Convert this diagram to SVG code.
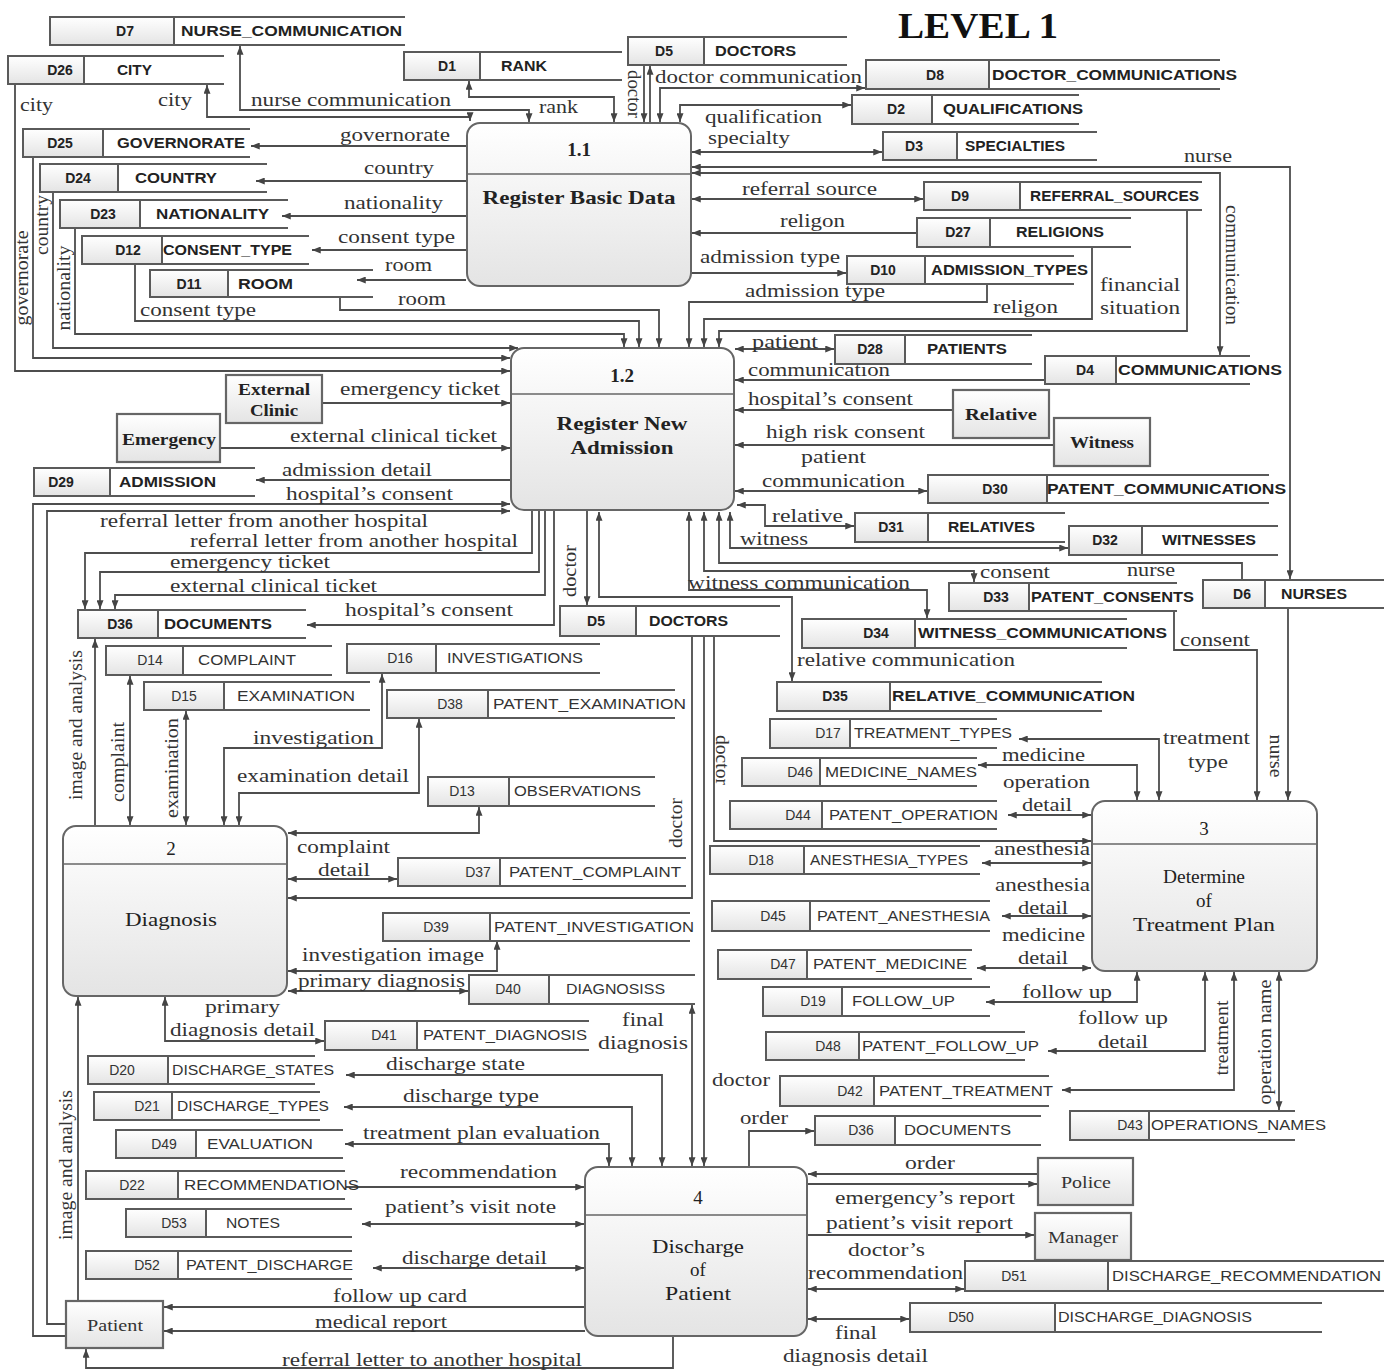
<svg xmlns="http://www.w3.org/2000/svg" width="1384" height="1371" viewBox="0 0 1384 1371">
<defs>
  <linearGradient id="gfill" x1="0" y1="0" x2="0" y2="1">
    <stop offset="0" stop-color="#ffffff"/>
    <stop offset="1" stop-color="#e4e4e4"/>
  </linearGradient>
  <marker id="ah" viewBox="0 0 10 8" refX="10" refY="4" markerWidth="9" markerHeight="7" markerUnits="userSpaceOnUse" orient="auto-start-reverse">
    <path d="M0,0 L10,4 L0,8 z" fill="#444"/>
  </marker>
  <style>
    .sid{fill:url(#gfill);stroke:#5a5a5a;stroke-width:2}
    .sl{fill:none;stroke:#5a5a5a;stroke-width:2}
    .si{font-family:"Liberation Sans",Arial,sans-serif;font-weight:bold;font-size:14px;fill:#222;text-anchor:middle}
    .sn{font-family:"Liberation Sans",Arial,sans-serif;font-weight:bold;font-size:14px;fill:#222}
    .si2{font-family:"Liberation Sans",Arial,sans-serif;font-size:14px;fill:#333;text-anchor:middle}
    .sn2{font-family:"Liberation Sans",Arial,sans-serif;font-size:14px;fill:#333}
    .proc{fill:url(#gfill);stroke:#666;stroke-width:2}
    .div{stroke:#666;stroke-width:1.6}
    .ext{fill:url(#gfill);stroke:#666;stroke-width:2.2}
    .pt{font-family:"Liberation Serif","Times New Roman",serif;font-size:19px;fill:#222;text-anchor:middle}
    .ptb{font-family:"Liberation Serif","Times New Roman",serif;font-size:19px;font-weight:bold;fill:#222;text-anchor:middle}
    .et{font-family:"Liberation Serif","Times New Roman",serif;font-size:16px;font-weight:bold;fill:#222;text-anchor:middle}
    .et2{font-family:"Liberation Serif","Times New Roman",serif;font-size:16px;fill:#333;text-anchor:middle}
    .lb{font-family:"Liberation Serif","Times New Roman",serif;font-size:19px;fill:#333}
    .lv{font-family:"Liberation Serif","Times New Roman",serif;font-size:18px;fill:#333;text-anchor:middle}
    .c path{fill:none;stroke:#4d4d4d;stroke-width:1.8}
    .c .f{marker-end:url(#ah)}
    .c .b{marker-start:url(#ah);marker-end:url(#ah)}
    .c .s{marker-start:url(#ah)}
    .title{font-family:"Liberation Serif","Times New Roman",serif;font-size:36px;font-weight:bold;fill:#111}
  </style>
</defs>
<rect width="1384" height="1371" fill="#ffffff"/>

<text class="title" x="898" y="38" textLength="160" lengthAdjust="spacingAndGlyphs">LEVEL 1</text>

<!-- connectors -->
<g id="connectors" class="c">
  <!-- around 1.1 top -->
  <path class="b" d="M614 122 V97 H469 V81"/>
  <path class="b" d="M529 122 V110 H240 V46"/>
  <path class="b" d="M470 121 V117 H207 V85"/>
  <path class="f" d="M644 66 V122"/>
  <path class="f" d="M650 122 V66"/>
  <path class="b" d="M660 122 V88 H865"/>
  <path class="b" d="M680 122 V105 H851"/>
  <!-- 1.1 right -->
  <path class="b" d="M692 152 H882"/>
  <path class="b" d="M692 167 H1290 V579"/>
  <path class="b" d="M692 173 H1220 V355"/>
  <path class="b" d="M692 199 H923"/>
  <path class="f" d="M916 233 H692"/>
  <path class="f" d="M691 273 H846"/>
  <!-- 1.1 left -->
  <path class="f" d="M466 146 H251"/>
  <path class="f" d="M466 181 H256"/>
  <path class="f" d="M466 216 H282"/>
  <path class="f" d="M466 250 H312"/>
  <path class="f" d="M466 280 H357"/>
  <!-- stores into 1.2 -->
  <path class="f" d="M15 85 V371 H510"/>
  <path class="f" d="M33 158 V358 H510"/>
  <path class="f" d="M53 193 V348 H518"/>
  <path class="f" d="M75 229 V334 H624 V347"/>
  <path class="f" d="M135 265 V321 H639 V347"/>
  <path class="f" d="M340 298 V310 H659 V347"/>
  <path class="f" d="M987 284 V302 H689 V347"/>
  <path class="f" d="M1092 247 V319 H704 V347"/>
  <path class="f" d="M1187 210 V331 H719 V347"/>
  <!-- 1.2 right -->
  <path class="b" d="M735 349 H834"/>
  <path class="f" d="M1044 380 H735"/>
  <path class="f" d="M952 410 H735"/>
  <path class="f" d="M1053 445 H735"/>
  <path class="b" d="M735 491 H927"/>
  <path class="b" d="M737 505 H765 V526 H854"/>
  <path class="b" d="M730 512 V548 H1068"/>
  <path class="s" d="M719 512 V563 H1242 V580"/>
  <path class="b" d="M704 512 V571 H974 V582"/>
  <path class="b" d="M689 512 V590 H927 V618"/>
  <path class="b" d="M599 512 V597 H792 V681"/>
  <path class="f" d="M587 511 V605"/>
  <!-- 1.2 left -->
  <path class="f" d="M322 403 H510"/>
  <path class="f" d="M220 448 H510"/>
  <path class="f" d="M511 480 H256"/>
  <path class="f" d="M66 1336 H33 V504 H510"/>
  <path class="f" d="M66 1324 H47 V511 H510"/>
  <path class="f" d="M532 511 V553 H85 V609"/>
  <path class="f" d="M539 511 V572 H100 V609"/>
  <path class="f" d="M545 511 V595 H115 V609"/>
  <path class="f" d="M554 511 V625 H307"/>
  <!-- process 2 -->
  <path class="f" d="M95 825 V639"/>
  <path class="b" d="M130 676 V825"/>
  <path class="b" d="M186 711 V825"/>
  <path class="b" d="M382 674 V748 H224 V825"/>
  <path class="b" d="M419 719 V793 H239 V825"/>
  <path class="b" d="M479 807 V833 H288"/>
  <path class="b" d="M288 879 H397"/>
  <path class="f" d="M692 637 V898 H288"/>
  <path class="b" d="M288 971 H497 V941"/>
  <path class="b" d="M288 991 H468"/>
  <path class="b" d="M165 997 V1041 H324"/>
  <path class="f" d="M78 1300 V997"/>
  <!-- process 4 -->
  <path class="b" d="M692 1166 V1005"/>
  <path class="f" d="M704 637 V1166"/>
  <path class="b" d="M662 1166 V1075 H346"/>
  <path class="b" d="M632 1166 V1107 H344"/>
  <path class="b" d="M609 1166 V1144 H345"/>
  <path class="f" d="M346 1187 H584"/>
  <path class="b" d="M362 1224 H584"/>
  <path class="b" d="M373 1268 H584"/>
  <path class="f" d="M585 1307 H164"/>
  <path class="f" d="M585 1331 H164"/>
  <path class="f" d="M673 1337 V1368 H86 V1349"/>
  <path class="f" d="M749 1167 V1131 H814"/>
  <path class="f" d="M1037 1174 H808"/>
  <path class="f" d="M808 1184 H1037"/>
  <path class="f" d="M808 1235 H1034"/>
  <path class="b" d="M808 1289 H964"/>
  <path class="b" d="M808 1319 H909"/>
  <!-- process 3 -->
  <path class="f" d="M714 637 V841 H1091"/>
  <path class="b" d="M1159 800 V739 H1019"/>
  <path class="b" d="M1137 800 V765 H978"/>
  <path class="b" d="M1008 815 H1091"/>
  <path class="b" d="M982 863 H1091"/>
  <path class="b" d="M1002 916 H1091"/>
  <path class="b" d="M977 968 H1091"/>
  <path class="b" d="M1137 972 V1002 H986"/>
  <path class="b" d="M1205 972 V1051 H1048"/>
  <path class="b" d="M1234 972 V1090 H1062"/>
  <path class="b" d="M1279 972 V1110"/>
  <path class="f" d="M1288 609 V800"/>
  <path class="f" d="M1174 612 V650 H1257 V800"/>
</g>

<!-- flow labels -->
<g id="flow-labels">
  <text class="lb" x="20" y="111" textLength="33" lengthAdjust="spacingAndGlyphs">city</text>
  <text class="lb" x="158" y="106" textLength="34" lengthAdjust="spacingAndGlyphs">city</text>
  <text class="lb" x="251" y="106" textLength="200" lengthAdjust="spacingAndGlyphs">nurse communication</text>
  <text class="lb" x="539" y="113" textLength="39" lengthAdjust="spacingAndGlyphs">rank</text>
  <text class="lv" transform="translate(634 94) rotate(90)" dy="0.35em" textLength="48" lengthAdjust="spacingAndGlyphs">doctor</text>
  <text class="lb" x="655" y="83" textLength="207" lengthAdjust="spacingAndGlyphs">doctor communication</text>
  <text class="lb" x="705" y="123" textLength="117" lengthAdjust="spacingAndGlyphs">qualification</text>
  <text class="lb" x="708" y="144" textLength="82" lengthAdjust="spacingAndGlyphs">specialty</text>
  <text class="lb" x="340" y="141" textLength="110" lengthAdjust="spacingAndGlyphs">governorate</text>
  <text class="lb" x="364" y="174" textLength="70" lengthAdjust="spacingAndGlyphs">country</text>
  <text class="lb" x="344" y="209" textLength="99" lengthAdjust="spacingAndGlyphs">nationality</text>
  <text class="lb" x="338" y="243" textLength="117" lengthAdjust="spacingAndGlyphs">consent type</text>
  <text class="lb" x="385" y="271" textLength="47" lengthAdjust="spacingAndGlyphs">room</text>
  <text class="lb" x="398" y="305" textLength="48" lengthAdjust="spacingAndGlyphs">room</text>
  <text class="lb" x="140" y="316" textLength="116" lengthAdjust="spacingAndGlyphs">consent type</text>
  <text class="lv" transform="translate(22 278) rotate(-90)" dy="0.35em" textLength="95" lengthAdjust="spacingAndGlyphs">governorate</text>
  <text class="lv" transform="translate(42 225) rotate(-90)" dy="0.35em" textLength="60" lengthAdjust="spacingAndGlyphs">country</text>
  <text class="lv" transform="translate(64 288) rotate(-90)" dy="0.35em" textLength="85" lengthAdjust="spacingAndGlyphs">nationality</text>
  <text class="lb" x="742" y="195" textLength="135" lengthAdjust="spacingAndGlyphs">referral source</text>
  <text class="lb" x="780" y="227" textLength="65" lengthAdjust="spacingAndGlyphs">religon</text>
  <text class="lb" x="700" y="263" textLength="140" lengthAdjust="spacingAndGlyphs">admission type</text>
  <text class="lb" x="745" y="297" textLength="140" lengthAdjust="spacingAndGlyphs">admission type</text>
  <text class="lb" x="993" y="313" textLength="65" lengthAdjust="spacingAndGlyphs">religon</text>
  <text class="lb" x="1100" y="291" textLength="80" lengthAdjust="spacingAndGlyphs">financial</text>
  <text class="lb" x="1100" y="314" textLength="80" lengthAdjust="spacingAndGlyphs">situation</text>
  <text class="lb" x="1184" y="162" textLength="48" lengthAdjust="spacingAndGlyphs">nurse</text>
  <text class="lv" transform="translate(1232 265) rotate(90)" dy="0.35em" textLength="120" lengthAdjust="spacingAndGlyphs">communication</text>
  <text class="lb" x="752" y="348" textLength="66" lengthAdjust="spacingAndGlyphs">patient</text>
  <text class="lb" x="748" y="376" textLength="142" lengthAdjust="spacingAndGlyphs">communication</text>
  <text class="lb" x="748" y="405" textLength="165" lengthAdjust="spacingAndGlyphs">hospital’s consent</text>
  <text class="lb" x="766" y="438" textLength="159" lengthAdjust="spacingAndGlyphs">high risk consent</text>
  <text class="lb" x="801" y="463" textLength="65" lengthAdjust="spacingAndGlyphs">patient</text>
  <text class="lb" x="762" y="487" textLength="143" lengthAdjust="spacingAndGlyphs">communication</text>
  <text class="lb" x="772" y="522" textLength="71" lengthAdjust="spacingAndGlyphs">relative</text>
  <text class="lb" x="740" y="545" textLength="68" lengthAdjust="spacingAndGlyphs">witness</text>
  <text class="lb" x="688" y="589" textLength="222" lengthAdjust="spacingAndGlyphs">witness communication</text>
  <text class="lb" x="980" y="578" textLength="70" lengthAdjust="spacingAndGlyphs">consent</text>
  <text class="lb" x="1127" y="576" textLength="48" lengthAdjust="spacingAndGlyphs">nurse</text>
  <text class="lb" x="1180" y="646" textLength="70" lengthAdjust="spacingAndGlyphs">consent</text>
  <text class="lb" x="797" y="666" textLength="218" lengthAdjust="spacingAndGlyphs">relative communication</text>
  <text class="lb" x="340" y="395" textLength="160" lengthAdjust="spacingAndGlyphs">emergency ticket</text>
  <text class="lb" x="290" y="442" textLength="207" lengthAdjust="spacingAndGlyphs">external clinical ticket</text>
  <text class="lb" x="282" y="476" textLength="150" lengthAdjust="spacingAndGlyphs">admission detail</text>
  <text class="lb" x="286" y="500" textLength="167" lengthAdjust="spacingAndGlyphs">hospital’s consent</text>
  <text class="lb" x="100" y="527" textLength="328" lengthAdjust="spacingAndGlyphs">referral letter from another hospital</text>
  <text class="lb" x="190" y="547" textLength="328" lengthAdjust="spacingAndGlyphs">referral letter from another hospital</text>
  <text class="lb" x="170" y="568" textLength="160" lengthAdjust="spacingAndGlyphs">emergency ticket</text>
  <text class="lb" x="170" y="592" textLength="207" lengthAdjust="spacingAndGlyphs">external clinical ticket</text>
  <text class="lb" x="345" y="616" textLength="168" lengthAdjust="spacingAndGlyphs">hospital’s consent</text>
  <text class="lv" transform="translate(570 571) rotate(-90)" dy="0.35em" textLength="52" lengthAdjust="spacingAndGlyphs">doctor</text>
  <text class="lv" transform="translate(76 725) rotate(-90)" dy="0.35em" textLength="150" lengthAdjust="spacingAndGlyphs">image and analysis</text>
  <text class="lv" transform="translate(118 762) rotate(-90)" dy="0.35em" textLength="80" lengthAdjust="spacingAndGlyphs">complaint</text>
  <text class="lv" transform="translate(172 768) rotate(-90)" dy="0.35em" textLength="100" lengthAdjust="spacingAndGlyphs">examination</text>
  <text class="lb" x="253" y="744" textLength="121" lengthAdjust="spacingAndGlyphs">investigation</text>
  <text class="lb" x="237" y="782" textLength="172" lengthAdjust="spacingAndGlyphs">examination detail</text>
  <text class="lb" x="297" y="853" textLength="93" lengthAdjust="spacingAndGlyphs">complaint</text>
  <text class="lb" x="318" y="876" textLength="52" lengthAdjust="spacingAndGlyphs">detail</text>
  <text class="lv" transform="translate(676 823) rotate(-90)" dy="0.35em" textLength="50" lengthAdjust="spacingAndGlyphs">doctor</text>
  <text class="lv" transform="translate(722 760) rotate(90)" dy="0.35em" textLength="50" lengthAdjust="spacingAndGlyphs">doctor</text>
  <text class="lb" x="302" y="961" textLength="182" lengthAdjust="spacingAndGlyphs">investigation image</text>
  <text class="lb" x="298" y="987" textLength="167" lengthAdjust="spacingAndGlyphs">primary diagnosis</text>
  <text class="lb" x="205" y="1013" textLength="75" lengthAdjust="spacingAndGlyphs">primary</text>
  <text class="lb" x="170" y="1036" textLength="145" lengthAdjust="spacingAndGlyphs">diagnosis detail</text>
  <text class="lb" x="622" y="1026" textLength="42" lengthAdjust="spacingAndGlyphs">final</text>
  <text class="lb" x="598" y="1049" textLength="90" lengthAdjust="spacingAndGlyphs">diagnosis</text>
  <text class="lb" x="386" y="1070" textLength="139" lengthAdjust="spacingAndGlyphs">discharge state</text>
  <text class="lb" x="403" y="1102" textLength="136" lengthAdjust="spacingAndGlyphs">discharge type</text>
  <text class="lb" x="363" y="1139" textLength="237" lengthAdjust="spacingAndGlyphs">treatment plan evaluation</text>
  <text class="lb" x="400" y="1178" textLength="157" lengthAdjust="spacingAndGlyphs">recommendation</text>
  <text class="lb" x="385" y="1213" textLength="171" lengthAdjust="spacingAndGlyphs">patient’s visit note</text>
  <text class="lb" x="402" y="1264" textLength="145" lengthAdjust="spacingAndGlyphs">discharge detail</text>
  <text class="lb" x="333" y="1302" textLength="134" lengthAdjust="spacingAndGlyphs">follow up card</text>
  <text class="lb" x="315" y="1328" textLength="132" lengthAdjust="spacingAndGlyphs">medical report</text>
  <text class="lv" transform="translate(66 1165) rotate(-90)" dy="0.35em" textLength="150" lengthAdjust="spacingAndGlyphs">image and analysis</text>
  <text class="lb" x="282" y="1366" textLength="300" lengthAdjust="spacingAndGlyphs">referral letter to another hospital</text>
  <text class="lb" x="712" y="1086" textLength="58" lengthAdjust="spacingAndGlyphs">doctor</text>
  <text class="lb" x="740" y="1124" textLength="48" lengthAdjust="spacingAndGlyphs">order</text>
  <text class="lb" x="905" y="1169" textLength="50" lengthAdjust="spacingAndGlyphs">order</text>
  <text class="lb" x="835" y="1204" textLength="180" lengthAdjust="spacingAndGlyphs">emergency’s report</text>
  <text class="lb" x="826" y="1229" textLength="187" lengthAdjust="spacingAndGlyphs">patient’s visit report</text>
  <text class="lb" x="848" y="1256" textLength="77" lengthAdjust="spacingAndGlyphs">doctor’s</text>
  <text class="lb" x="808" y="1279" textLength="155" lengthAdjust="spacingAndGlyphs">recommendation</text>
  <text class="lb" x="835" y="1339" textLength="42" lengthAdjust="spacingAndGlyphs">final</text>
  <text class="lb" x="783" y="1362" textLength="145" lengthAdjust="spacingAndGlyphs">diagnosis detail</text>
  <text class="lb" x="1163" y="744" textLength="87" lengthAdjust="spacingAndGlyphs">treatment</text>
  <text class="lb" x="1188" y="768" textLength="40" lengthAdjust="spacingAndGlyphs">type</text>
  <text class="lb" x="1002" y="761" textLength="83" lengthAdjust="spacingAndGlyphs">medicine</text>
  <text class="lb" x="1003" y="788" textLength="87" lengthAdjust="spacingAndGlyphs">operation</text>
  <text class="lb" x="1022" y="811" textLength="50" lengthAdjust="spacingAndGlyphs">detail</text>
  <text class="lb" x="994" y="855" textLength="96" lengthAdjust="spacingAndGlyphs">anesthesia</text>
  <text class="lb" x="995" y="891" textLength="95" lengthAdjust="spacingAndGlyphs">anesthesia</text>
  <text class="lb" x="1018" y="914" textLength="50" lengthAdjust="spacingAndGlyphs">detail</text>
  <text class="lb" x="1002" y="941" textLength="83" lengthAdjust="spacingAndGlyphs">medicine</text>
  <text class="lb" x="1018" y="964" textLength="50" lengthAdjust="spacingAndGlyphs">detail</text>
  <text class="lb" x="1022" y="998" textLength="90" lengthAdjust="spacingAndGlyphs">follow up</text>
  <text class="lb" x="1078" y="1024" textLength="90" lengthAdjust="spacingAndGlyphs">follow up</text>
  <text class="lb" x="1098" y="1048" textLength="50" lengthAdjust="spacingAndGlyphs">detail</text>
  <text class="lv" transform="translate(1222 1038) rotate(-90)" dy="0.35em" textLength="75" lengthAdjust="spacingAndGlyphs">treatment</text>
  <text class="lv" transform="translate(1265 1042) rotate(-90)" dy="0.35em" textLength="125" lengthAdjust="spacingAndGlyphs">operation name</text>
  <text class="lv" transform="translate(1276 756) rotate(90)" dy="0.35em" textLength="43" lengthAdjust="spacingAndGlyphs">nurse</text>
</g>

<!-- processes -->
<g id="p1-1">
  <rect class="proc" x="467" y="123" width="224" height="163" rx="13"/>
  <line class="div" x1="467" y1="174" x2="691" y2="174"/>
  <text class="ptb" x="579" y="156">1.1</text>
  <text class="ptb" x="579" y="204" textLength="193" lengthAdjust="spacingAndGlyphs">Register Basic Data</text>
</g>
<g id="p1-2">
  <rect class="proc" x="511" y="348" width="223" height="162" rx="13"/>
  <line class="div" x1="511" y1="394" x2="734" y2="394"/>
  <text class="ptb" x="622" y="382">1.2</text>
  <text class="ptb" x="622" y="430" textLength="131" lengthAdjust="spacingAndGlyphs">Register New</text>
  <text class="ptb" x="622" y="454" textLength="103" lengthAdjust="spacingAndGlyphs">Admission</text>
</g>
<g id="p2">
  <rect class="proc" x="63" y="826" width="224" height="170" rx="13"/>
  <line class="div" x1="63" y1="864" x2="287" y2="864"/>
  <text class="pt" x="171" y="855">2</text>
  <text class="pt" x="171" y="926" textLength="92" lengthAdjust="spacingAndGlyphs">Diagnosis</text>
</g>
<g id="p3">
  <rect class="proc" x="1092" y="801" width="225" height="170" rx="13"/>
  <line class="div" x1="1092" y1="844" x2="1317" y2="844"/>
  <text class="pt" x="1204" y="835">3</text>
  <text class="pt" x="1204" y="883" textLength="82" lengthAdjust="spacingAndGlyphs">Determine</text>
  <text class="pt" x="1204" y="907">of</text>
  <text class="pt" x="1204" y="931" textLength="142" lengthAdjust="spacingAndGlyphs">Treatment Plan</text>
</g>
<g id="p4">
  <rect class="proc" x="585" y="1167" width="222" height="169" rx="13"/>
  <line class="div" x1="585" y1="1215" x2="807" y2="1215"/>
  <text class="pt" x="698" y="1204">4</text>
  <text class="pt" x="698" y="1253" textLength="92" lengthAdjust="spacingAndGlyphs">Discharge</text>
  <text class="pt" x="698" y="1276">of</text>
  <text class="pt" x="698" y="1300" textLength="66" lengthAdjust="spacingAndGlyphs">Patient</text>
</g>

<!-- external entities -->
<g id="ext-clinic"><rect class="ext" x="226" y="375" width="96" height="48"/><text class="et" x="274" y="395" textLength="72" lengthAdjust="spacingAndGlyphs">External</text><text class="et" x="274" y="416" textLength="48" lengthAdjust="spacingAndGlyphs">Clinic</text></g>
<g id="emergency"><rect class="ext" x="117" y="414" width="103" height="48"/><text class="et" x="169" y="445" textLength="94" lengthAdjust="spacingAndGlyphs">Emergency</text></g>
<g id="relative"><rect class="ext" x="953" y="390" width="96" height="48"/><text class="et" x="1001" y="420" textLength="72" lengthAdjust="spacingAndGlyphs">Relative</text></g>
<g id="witness"><rect class="ext" x="1054" y="418" width="96" height="48"/><text class="et" x="1102" y="448" textLength="64" lengthAdjust="spacingAndGlyphs">Witness</text></g>
<g id="police"><rect class="ext" x="1038" y="1158" width="95" height="47"/><text class="et2" x="1086" y="1188" textLength="50" lengthAdjust="spacingAndGlyphs">Police</text></g>
<g id="manager"><rect class="ext" x="1035" y="1213" width="96" height="47"/><text class="et2" x="1083" y="1243" textLength="70" lengthAdjust="spacingAndGlyphs">Manager</text></g>
<g id="patient"><rect class="ext" x="66" y="1301" width="97" height="47"/><text class="et2" x="115" y="1331" textLength="56" lengthAdjust="spacingAndGlyphs">Patient</text></g>

<!-- data stores -->
<g id="d7"><rect class="sid" x="50" y="17" width="124" height="28"/><path class="sl" d="M174 17H405M174 45H405"/><text class="si" x="125" y="36">D7</text><text class="sn" x="181" y="36" textLength="221" lengthAdjust="spacingAndGlyphs">NURSE_COMMUNICATION</text></g>
<g id="d26"><rect class="sid" x="8" y="56" width="76" height="28"/><path class="sl" d="M84 56H224M84 84H224"/><text class="si" x="60" y="75">D26</text><text class="sn" x="117" y="75" textLength="35" lengthAdjust="spacingAndGlyphs">CITY</text></g>
<g id="d1"><rect class="sid" x="404" y="52" width="76" height="28"/><path class="sl" d="M480 52H622M480 80H622"/><text class="si" x="447" y="71">D1</text><text class="sn" x="501" y="71" textLength="46" lengthAdjust="spacingAndGlyphs">RANK</text></g>
<g id="d5-top"><rect class="sid" x="628" y="37" width="76" height="28"/><path class="sl" d="M704 37H847M704 65H847"/><text class="si" x="664" y="56">D5</text><text class="sn" x="715" y="56" textLength="81" lengthAdjust="spacingAndGlyphs">DOCTORS</text></g>
<g id="d8"><rect class="sid" x="866" y="60" width="123" height="29"/><path class="sl" d="M989 60H1220M989 89H1220"/><text class="si" x="935" y="80">D8</text><text class="sn" x="992" y="80" textLength="245" lengthAdjust="spacingAndGlyphs">DOCTOR_COMMUNICATIONS</text></g>
<g id="d2"><rect class="sid" x="852" y="95" width="80" height="29"/><path class="sl" d="M932 95H1079M932 124H1079"/><text class="si" x="896" y="114">D2</text><text class="sn" x="943" y="114" textLength="140" lengthAdjust="spacingAndGlyphs">QUALIFICATIONS</text></g>
<g id="d3"><rect class="sid" x="883" y="132" width="74" height="28"/><path class="sl" d="M957 132H1097M957 160H1097"/><text class="si" x="914" y="151">D3</text><text class="sn" x="965" y="151" textLength="100" lengthAdjust="spacingAndGlyphs">SPECIALTIES</text></g>
<g id="d25"><rect class="sid" x="23" y="129" width="80" height="28"/><path class="sl" d="M103 129H250M103 157H250"/><text class="si" x="60" y="148">D25</text><text class="sn" x="117" y="148" textLength="128" lengthAdjust="spacingAndGlyphs">GOVERNORATE</text></g>
<g id="d24"><rect class="sid" x="40" y="164" width="78" height="28"/><path class="sl" d="M118 164H267M118 192H267"/><text class="si" x="78" y="183">D24</text><text class="sn" x="135" y="183" textLength="82" lengthAdjust="spacingAndGlyphs">COUNTRY</text></g>
<g id="d23"><rect class="sid" x="60" y="200" width="80" height="28"/><path class="sl" d="M140 200H288M140 228H288"/><text class="si" x="103" y="219">D23</text><text class="sn" x="156" y="219" textLength="113" lengthAdjust="spacingAndGlyphs">NATIONALITY</text></g>
<g id="d12"><rect class="sid" x="82" y="236" width="80" height="28"/><path class="sl" d="M162 236H309M162 264H309"/><text class="si" x="128" y="255">D12</text><text class="sn" x="163" y="255" textLength="129" lengthAdjust="spacingAndGlyphs">CONSENT_TYPE</text></g>
<g id="d11"><rect class="sid" x="150" y="270" width="78" height="27"/><path class="sl" d="M228 270H373M228 297H373"/><text class="si" x="189" y="289">D11</text><text class="sn" x="238" y="289" textLength="55" lengthAdjust="spacingAndGlyphs">ROOM</text></g>
<g id="d9"><rect class="sid" x="924" y="182" width="96" height="28"/><path class="sl" d="M1020 182H1202M1020 210H1202"/><text class="si" x="960" y="201">D9</text><text class="sn" x="1030" y="201" textLength="169" lengthAdjust="spacingAndGlyphs">REFERRAL_SOURCES</text></g>
<g id="d27"><rect class="sid" x="917" y="218" width="73" height="29"/><path class="sl" d="M990 218H1131M990 247H1131"/><text class="si" x="958" y="237">D27</text><text class="sn" x="1016" y="237" textLength="88" lengthAdjust="spacingAndGlyphs">RELIGIONS</text></g>
<g id="d10"><rect class="sid" x="847" y="256" width="78" height="28"/><path class="sl" d="M925 256H1074M925 284H1074"/><text class="si" x="883" y="275">D10</text><text class="sn" x="931" y="275" textLength="157" lengthAdjust="spacingAndGlyphs">ADMISSION_TYPES</text></g>
<g id="d28"><rect class="sid" x="835" y="335" width="70" height="29"/><path class="sl" d="M905 335H1032M905 364H1032"/><text class="si" x="870" y="354">D28</text><text class="sn" x="927" y="354" textLength="80" lengthAdjust="spacingAndGlyphs">PATIENTS</text></g>
<g id="d4"><rect class="sid" x="1045" y="356" width="71" height="28"/><path class="sl" d="M1116 356H1250M1116 384H1250"/><text class="si" x="1085" y="375">D4</text><text class="sn" x="1118" y="375" textLength="164" lengthAdjust="spacingAndGlyphs">COMMUNICATIONS</text></g>
<g id="d30"><rect class="sid" x="928" y="475" width="119" height="28"/><path class="sl" d="M1047 475H1269M1047 503H1269"/><text class="si" x="995" y="494">D30</text><text class="sn" x="1047" y="494" textLength="239" lengthAdjust="spacingAndGlyphs">PATENT_COMMUNICATIONS</text></g>
<g id="d31"><rect class="sid" x="855" y="513" width="73" height="29"/><path class="sl" d="M928 513H1065M928 542H1065"/><text class="si" x="891" y="532">D31</text><text class="sn" x="948" y="532" textLength="87" lengthAdjust="spacingAndGlyphs">RELATIVES</text></g>
<g id="d32"><rect class="sid" x="1069" y="526" width="73" height="29"/><path class="sl" d="M1142 526H1278M1142 555H1278"/><text class="si" x="1105" y="545">D32</text><text class="sn" x="1162" y="545" textLength="94" lengthAdjust="spacingAndGlyphs">WITNESSES</text></g>
<g id="d33"><rect class="sid" x="949" y="583" width="80" height="28"/><path class="sl" d="M1029 583H1177M1029 611H1177"/><text class="si" x="996" y="602">D33</text><text class="sn" x="1031" y="602" textLength="163" lengthAdjust="spacingAndGlyphs">PATENT_CONSENTS</text></g>
<g id="d6"><rect class="sid" x="1203" y="580" width="62" height="28"/><path class="sl" d="M1265 580H1384M1265 608H1384"/><text class="si" x="1242" y="599">D6</text><text class="sn" x="1281" y="599" textLength="66" lengthAdjust="spacingAndGlyphs">NURSES</text></g>
<g id="d34"><rect class="sid" x="802" y="619" width="113" height="29"/><path class="sl" d="M915 619H1127M915 648H1127"/><text class="si" x="876" y="638">D34</text><text class="sn" x="918" y="638" textLength="249" lengthAdjust="spacingAndGlyphs">WITNESS_COMMUNICATIONS</text></g>
<g id="d35"><rect class="sid" x="777" y="682" width="113" height="29"/><path class="sl" d="M890 682H1102M890 711H1102"/><text class="si" x="835" y="701">D35</text><text class="sn" x="892" y="701" textLength="243" lengthAdjust="spacingAndGlyphs">RELATIVE_COMMUNICATION</text></g>
<g id="d36-top"><rect class="sid" x="78" y="610" width="80" height="28"/><path class="sl" d="M158 610H306M158 638H306"/><text class="si" x="120" y="629">D36</text><text class="sn" x="164" y="629" textLength="108" lengthAdjust="spacingAndGlyphs">DOCUMENTS</text></g>
<g id="d29"><rect class="sid" x="34" y="468" width="76" height="28"/><path class="sl" d="M110 468H255M110 496H255"/><text class="si" x="61" y="487">D29</text><text class="sn" x="119" y="487" textLength="97" lengthAdjust="spacingAndGlyphs">ADMISSION</text></g>
<g id="d5-mid"><rect class="sid" x="560" y="606" width="76" height="30"/><path class="sl" d="M636 606H780M636 636H780"/><text class="si" x="596" y="626">D5</text><text class="sn" x="649" y="626" textLength="79" lengthAdjust="spacingAndGlyphs">DOCTORS</text></g>

<g id="d14"><rect class="sid" x="106" y="646" width="77" height="29"/><path class="sl" d="M183 646H332M183 675H332"/><text class="si2" x="150" y="665">D14</text><text class="sn2" x="198" y="665" textLength="98" lengthAdjust="spacingAndGlyphs">COMPLAINT</text></g>
<g id="d16"><rect class="sid" x="347" y="644" width="89" height="29"/><path class="sl" d="M436 644H600M436 673H600"/><text class="si2" x="400" y="663">D16</text><text class="sn2" x="447" y="663" textLength="136" lengthAdjust="spacingAndGlyphs">INVESTIGATIONS</text></g>
<g id="d15"><rect class="sid" x="144" y="682" width="80" height="28"/><path class="sl" d="M224 682H370M224 710H370"/><text class="si2" x="184" y="701">D15</text><text class="sn2" x="237" y="701" textLength="118" lengthAdjust="spacingAndGlyphs">EXAMINATION</text></g>
<g id="d38"><rect class="sid" x="387" y="690" width="101" height="28"/><path class="sl" d="M488 690H675M488 718H675"/><text class="si2" x="450" y="709">D38</text><text class="sn2" x="493" y="709" textLength="193" lengthAdjust="spacingAndGlyphs">PATENT_EXAMINATION</text></g>
<g id="d13"><rect class="sid" x="428" y="777" width="81" height="29"/><path class="sl" d="M509 777H655M509 806H655"/><text class="si2" x="462" y="796">D13</text><text class="sn2" x="514" y="796" textLength="127" lengthAdjust="spacingAndGlyphs">OBSERVATIONS</text></g>
<g id="d37"><rect class="sid" x="398" y="858" width="102" height="28"/><path class="sl" d="M500 858H686M500 886H686"/><text class="si2" x="478" y="877">D37</text><text class="sn2" x="509" y="877" textLength="172" lengthAdjust="spacingAndGlyphs">PATENT_COMPLAINT</text></g>
<g id="d39"><rect class="sid" x="383" y="913" width="107" height="28"/><path class="sl" d="M490 913H690M490 941H690"/><text class="si2" x="436" y="932">D39</text><text class="sn2" x="494" y="932" textLength="200" lengthAdjust="spacingAndGlyphs">PATENT_INVESTIGATION</text></g>
<g id="d40"><rect class="sid" x="469" y="975" width="80" height="29"/><path class="sl" d="M549 975H695M549 1004H695"/><text class="si2" x="508" y="994">D40</text><text class="sn2" x="566" y="994" textLength="99" lengthAdjust="spacingAndGlyphs">DIAGNOSISS</text></g>
<g id="d41"><rect class="sid" x="325" y="1021" width="92" height="29"/><path class="sl" d="M417 1021H589M417 1050H589"/><text class="si2" x="384" y="1040">D41</text><text class="sn2" x="423" y="1040" textLength="164" lengthAdjust="spacingAndGlyphs">PATENT_DIAGNOSIS</text></g>
<g id="d20"><rect class="sid" x="88" y="1056" width="80" height="28"/><path class="sl" d="M168 1056H315M168 1084H315"/><text class="si2" x="122" y="1075">D20</text><text class="sn2" x="172" y="1075" textLength="162" lengthAdjust="spacingAndGlyphs">DISCHARGE_STATES</text></g>
<g id="d21"><rect class="sid" x="94" y="1092" width="78" height="28"/><path class="sl" d="M172 1092H320M172 1120H320"/><text class="si2" x="147" y="1111">D21</text><text class="sn2" x="177" y="1111" textLength="152" lengthAdjust="spacingAndGlyphs">DISCHARGE_TYPES</text></g>
<g id="d49"><rect class="sid" x="116" y="1130" width="80" height="28"/><path class="sl" d="M196 1130H343M196 1158H343"/><text class="si2" x="164" y="1149">D49</text><text class="sn2" x="207" y="1149" textLength="106" lengthAdjust="spacingAndGlyphs">EVALUATION</text></g>
<g id="d22"><rect class="sid" x="86" y="1171" width="92" height="28"/><path class="sl" d="M178 1171H345M178 1199H345"/><text class="si2" x="132" y="1190">D22</text><text class="sn2" x="184" y="1190" textLength="175" lengthAdjust="spacingAndGlyphs">RECOMMENDATIONS</text></g>
<g id="d53"><rect class="sid" x="126" y="1209" width="80" height="28"/><path class="sl" d="M206 1209H352M206 1237H352"/><text class="si2" x="174" y="1228">D53</text><text class="sn2" x="226" y="1228" textLength="54" lengthAdjust="spacingAndGlyphs">NOTES</text></g>
<g id="d52"><rect class="sid" x="86" y="1251" width="92" height="28"/><path class="sl" d="M178 1251H352M178 1279H352"/><text class="si2" x="147" y="1270">D52</text><text class="sn2" x="186" y="1270" textLength="167" lengthAdjust="spacingAndGlyphs">PATENT_DISCHARGE</text></g>
<g id="d17"><rect class="sid" x="770" y="719" width="80" height="29"/><path class="sl" d="M850 719H997M850 748H997"/><text class="si2" x="828" y="738">D17</text><text class="sn2" x="854" y="738" textLength="158" lengthAdjust="spacingAndGlyphs">TREATMENT_TYPES</text></g>
<g id="d46"><rect class="sid" x="742" y="758" width="78" height="28"/><path class="sl" d="M820 758H977M820 786H977"/><text class="si2" x="800" y="777">D46</text><text class="sn2" x="825" y="777" textLength="152" lengthAdjust="spacingAndGlyphs">MEDICINE_NAMES</text></g>
<g id="d44"><rect class="sid" x="730" y="801" width="92" height="28"/><path class="sl" d="M822 801H997M822 829H997"/><text class="si2" x="798" y="820">D44</text><text class="sn2" x="829" y="820" textLength="169" lengthAdjust="spacingAndGlyphs">PATENT_OPERATION</text></g>
<g id="d18"><rect class="sid" x="710" y="846" width="94" height="28"/><path class="sl" d="M804 846H980M804 874H980"/><text class="si2" x="761" y="865">D18</text><text class="sn2" x="810" y="865" textLength="158" lengthAdjust="spacingAndGlyphs">ANESTHESIA_TYPES</text></g>
<g id="d45"><rect class="sid" x="712" y="901" width="98" height="30"/><path class="sl" d="M810 901H990M810 931H990"/><text class="si2" x="773" y="921">D45</text><text class="sn2" x="817" y="921" textLength="173" lengthAdjust="spacingAndGlyphs">PATENT_ANESTHESIA</text></g>
<g id="d47"><rect class="sid" x="718" y="950" width="89" height="29"/><path class="sl" d="M807 950H972M807 979H972"/><text class="si2" x="783" y="969">D47</text><text class="sn2" x="813" y="969" textLength="154" lengthAdjust="spacingAndGlyphs">PATENT_MEDICINE</text></g>
<g id="d19"><rect class="sid" x="763" y="987" width="79" height="29"/><path class="sl" d="M842 987H990M842 1016H990"/><text class="si2" x="813" y="1006">D19</text><text class="sn2" x="852" y="1006" textLength="103" lengthAdjust="spacingAndGlyphs">FOLLOW_UP</text></g>
<g id="d48"><rect class="sid" x="766" y="1032" width="93" height="28"/><path class="sl" d="M859 1032H1025M859 1060H1025"/><text class="si2" x="828" y="1051">D48</text><text class="sn2" x="862" y="1051" textLength="177" lengthAdjust="spacingAndGlyphs">PATENT_FOLLOW_UP</text></g>
<g id="d42"><rect class="sid" x="780" y="1076" width="94" height="30"/><path class="sl" d="M874 1076H1049M874 1106H1049"/><text class="si2" x="850" y="1096">D42</text><text class="sn2" x="879" y="1096" textLength="174" lengthAdjust="spacingAndGlyphs">PATENT_TREATMENT</text></g>
<g id="d36-low"><rect class="sid" x="815" y="1116" width="80" height="29"/><path class="sl" d="M895 1116H1041M895 1145H1041"/><text class="si2" x="861" y="1135">D36</text><text class="sn2" x="904" y="1135" textLength="107" lengthAdjust="spacingAndGlyphs">DOCUMENTS</text></g>
<g id="d43"><rect class="sid" x="1070" y="1111" width="79" height="29"/><path class="sl" d="M1149 1111H1295M1149 1140H1295"/><text class="si2" x="1130" y="1130">D43</text><text class="sn2" x="1151" y="1130" textLength="175" lengthAdjust="spacingAndGlyphs">OPERATIONS_NAMES</text></g>
<g id="d51"><rect class="sid" x="965" y="1261" width="143" height="30"/><path class="sl" d="M1108 1261H1384M1108 1291H1384"/><text class="si2" x="1014" y="1281">D51</text><text class="sn2" x="1112" y="1281" textLength="269" lengthAdjust="spacingAndGlyphs">DISCHARGE_RECOMMENDATION</text></g>
<g id="d50"><rect class="sid" x="910" y="1303" width="145" height="29"/><path class="sl" d="M1055 1303H1322M1055 1332H1322"/><text class="si2" x="961" y="1322">D50</text><text class="sn2" x="1058" y="1322" textLength="194" lengthAdjust="spacingAndGlyphs">DISCHARGE_DIAGNOSIS</text></g>
</svg>
